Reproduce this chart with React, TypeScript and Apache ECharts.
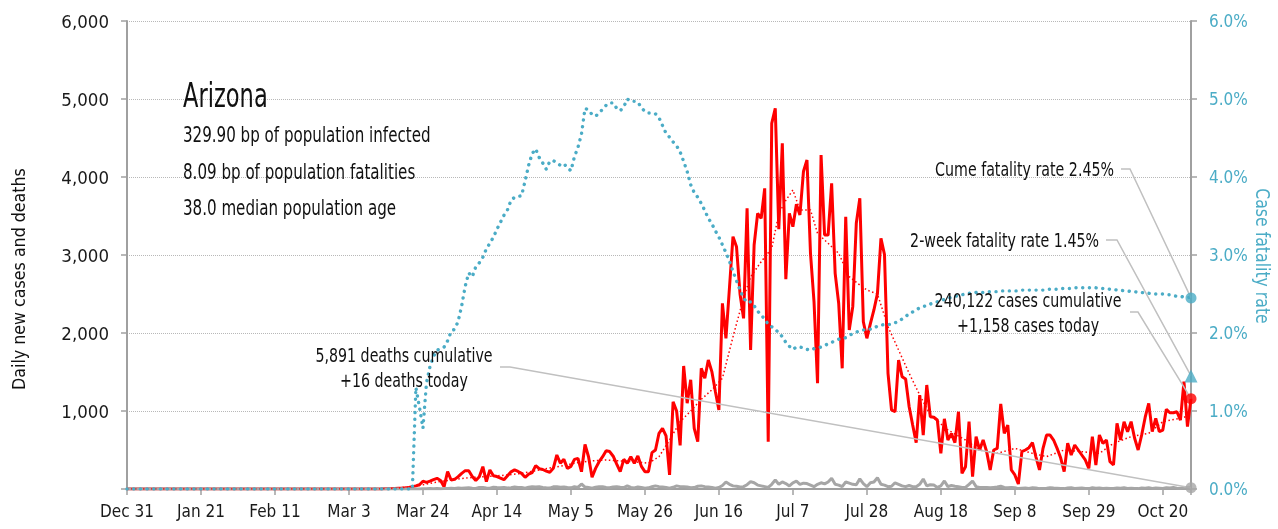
import React, { useEffect, useRef } from 'react';
import * as echarts from 'echarts';

const FONT = '"DejaVu Sans Condensed", "Liberation Sans Narrow", "Liberation Sans", sans-serif';

// x positions are day indexes counted from Dec 31, 2019
const xTickLabels = ['Dec 31', 'Jan 21', 'Feb 11', 'Mar 3', 'Mar 24', 'Apr 14', 'May 5', 'May 26', 'Jun 16', 'Jul 7', 'Jul 28', 'Aug 18', 'Sep 8', 'Sep 29', 'Oct 20'];
const lastDay = 302;

// daily new cases, starting at day 70
const casesStart = 70;
const cases = [
  0, 0, 1, 2, 3, 5, 8, 10, 12, 15,
  20, 30, 40, 55, 100, 85, 100, 120, 137, 110,
  30, 222, 115, 124, 158, 200, 235, 235, 160, 110,
  158, 286, 94, 244, 170, 160, 140, 120, 170, 220,
  245, 225, 200, 150, 190, 210, 299, 260, 250, 230,
  215, 265, 436, 330, 380, 265, 290, 380, 393, 222,
  570, 414, 150, 265, 350, 414, 491, 480, 420, 320,
  222, 380, 330, 414, 330, 423, 290, 222, 222, 466,
  500, 714, 778, 680, 180, 1119, 1000, 560, 1577, 1100,
  1400, 778, 607, 1547, 1419, 1654, 1505, 1250, 1013, 2381,
  1932, 2580, 3235, 3106, 2500, 2188, 3598, 1782, 3128, 3534,
  3470, 3855, 607, 4688, 4880, 3330, 4432, 2690, 3534, 3363,
  3650, 3513, 4070, 4218, 3021, 2400, 1355, 4282, 3256, 3256,
  3919, 2765, 2381, 1547, 3491, 2038, 2338, 3406, 3727, 2145,
  1932, 2120, 2295, 2505, 3214, 3007, 1483, 1013, 990, 1654,
  1440, 1410, 1055, 820, 594, 1205, 692, 1333, 927, 920,
  885, 457, 900, 628, 710, 594, 990, 201, 286, 863,
  158, 671, 500, 628, 479, 244, 500, 521, 1090, 714,
  820, 244, 180, 64, 479, 500, 530, 594, 410, 244,
  521, 692, 692, 628, 521, 400, 222, 586, 436, 564,
  500, 436, 372, 265, 671, 308, 692, 586, 628, 350,
  308, 842, 628, 863, 735, 863, 650, 500, 692, 920,
  1098, 735, 906, 735, 756, 1021, 978, 978, 990, 884,
  1376, 799, 1158,
];

// 7-day average of cases, read at sampled days
const casesAvg: [number, number][] = [
  [0, 0], [70, 0], [75, 5], [80, 25], [84, 55], [88, 90], [92, 115], [96, 140], [100, 155],
  [104, 165], [108, 180], [112, 200], [116, 235], [120, 270], [124, 300], [128, 340],
  [132, 360], [136, 372], [140, 360], [144, 350], [148, 330], [151, 414], [154, 628],
  [157, 863], [160, 1000], [163, 1150], [166, 1270], [169, 1420], [172, 1950], [175, 2450],
  [177, 2720], [180, 2914], [183, 3085], [185, 3530], [187, 3700], [189, 3833], [191, 3577],
  [194, 3577], [196, 3278], [199, 3150], [202, 3021], [205, 2722], [208, 2615], [210, 2551],
  [213, 2500], [216, 2081], [219, 1782], [222, 1483], [225, 1205], [228, 949], [233, 757],
  [238, 628], [242, 500], [247, 457], [252, 521], [257, 457], [261, 415], [266, 500],
  [271, 479], [276, 457], [280, 585], [285, 671], [290, 714], [294, 864], [299, 906], [302, 950],
];

// daily deaths, starting at day 80
const deathsStart = 80;
const deaths = [
  0, 0, 0, 1, 3, 2, 5, 4, 6, 3,
  5, 8, 10, 7, 12, 10, 14, 15, 9, 6,
  20, 18, 12, 10, 22, 18, 15, 20, 12, 16,
  25, 20, 18, 10, 22, 28, 25, 30, 20, 15,
  12, 28, 30, 22, 25, 18, 15, 30, 20, 64,
  25, 18, 10, 22, 30, 28, 20, 15, 25, 30,
  22, 18, 40, 20, 12, 25, 20, 10, 15, 28,
  40, 30, 25, 20, 10, 22, 40, 30, 28, 25,
  15, 18, 35, 40, 30, 25, 20, 10, 20, 45,
  90, 60, 40, 35, 25, 30, 55, 95, 80, 50,
  40, 30, 20, 60, 115, 60, 90, 70, 40, 80,
  100, 60, 75, 70, 50, 30, 60, 80, 65, 90,
  137, 60, 50, 30, 90, 75, 60, 55, 130, 70,
  30, 80, 90, 145, 60, 50, 30, 35, 80, 60,
  40, 30, 45, 30, 30, 60, 128, 40, 55, 50,
  20, 40, 103, 30, 45, 35, 30, 20, 20, 60,
  103, 30, 20, 18, 20, 15, 20, 25, 35, 20,
  15, 20, 15, 5, 10, 12, 8, 15, 12, 5,
  8, 10, 15, 12, 10, 8, 5, 12, 15, 8,
  10, 12, 6, 5, 15, 10, 12, 8, 10, 5,
  6, 12, 10, 15, 8, 10, 6, 5, 12, 10,
  15, 8, 12, 10, 8, 15, 12, 18, 10, 8,
  20, 12, 16,
];

// case fatality rate (%), starting at day 81
const cfrStart = 81;
const cfr = [
  0.0, 1.30, 1.05, 0.78, 1.36, 1.57, 1.70, 1.78, 1.80,
  1.82, 1.90, 2.02, 2.05, 2.15, 2.35, 2.60, 2.77, 2.72, 2.85,
  2.90, 2.97, 3.08, 3.15, 3.23, 3.33, 3.42, 3.51, 3.58, 3.70,
  3.74, 3.75, 3.76, 3.95, 4.15, 4.30, 4.36, 4.25, 4.18, 4.10,
  4.20, 4.21, 4.18, 4.15, 4.17, 4.12, 4.08, 4.26, 4.38, 4.55,
  4.88, 4.86, 4.80, 4.78, 4.82, 4.87, 4.92, 4.95, 4.95, 4.88,
  4.85, 4.90, 5.00, 4.97, 4.97, 4.96, 4.89, 4.84, 4.82, 4.82,
  4.81, 4.76, 4.66, 4.56, 4.51, 4.45, 4.40, 4.32, 4.20, 4.07,
  3.90, 3.80, 3.74, 3.66, 3.57, 3.47, 3.40, 3.31, 3.23, 3.13,
  3.03, 2.92, 2.79, 2.67, 2.55, 2.45, 2.39, 2.40, 2.35, 2.28,
  2.23, 2.18, 2.11, 2.08, 2.04, 2.01, 1.95, 1.88, 1.83, 1.79,
  1.82, 1.82, 1.81, 1.79, 1.78, 1.80, 1.81, 1.82, 1.84, 1.86,
  1.88, 1.90, 1.92, 1.93, 1.94, 1.97, 1.99, 2.01, 2.03, 2.04,
  2.04, 2.05, 2.06, 2.09, 2.10, 2.11, 2.11, 2.11, 2.13, 2.15,
  2.18, 2.21, 2.25, 2.27, 2.30, 2.32, 2.34, 2.35, 2.37, 2.39,
  2.40, 2.42, 2.43, 2.44, 2.46, 2.47, 2.48, 2.49, 2.50, 2.51,
  2.51, 2.52, 2.52, 2.52, 2.53, 2.53, 2.53, 2.53, 2.54, 2.54,
  2.54, 2.54, 2.54, 2.54, 2.55, 2.55, 2.55, 2.55, 2.55, 2.55,
  2.55, 2.56, 2.56, 2.56, 2.56, 2.57, 2.57, 2.57, 2.57, 2.58,
  2.58, 2.58, 2.58, 2.58, 2.58, 2.58, 2.57, 2.57, 2.57, 2.56,
  2.56, 2.55, 2.55, 2.54, 2.54, 2.53, 2.53, 2.52, 2.52, 2.51,
  2.51, 2.50, 2.50, 2.50, 2.50, 2.49, 2.49, 2.48, 2.47, 2.47,
  2.46, 2.46, 2.45,
];

const cumeRate = 2.45;
const twoWeekRate = 1.45;
const casesToday = 1158;
const deathsToday = 16;

const stateName = 'Arizona';
const statLines = ['329.90 bp of population infected', '8.09 bp of population fatalities', '38.0 median population age'];
const cumeLabel = 'Cume fatality rate 2.45%';
const twoWeekLabel = '2-week fatality rate 1.45%';
const casesLabel = ['240,122 cases cumulative', '+1,158 cases today'];
const deathsLabel = ['5,891 deaths cumulative', '+16 deaths today'];

const RED = '#ff0000';
const BLUE = '#4bacc6';
const GRAY = '#a6a6a6';
const AXIS = '#a0a0a0';
const LEADER = '#c0c0c0';

const toSeries = (start: number, arr: number[]) => [[0, 0], ...arr.map((v, i) => [start + i, v])];

export default function App() {
  const ref = useRef<HTMLDivElement>(null);
  useEffect(() => {
    const chart = echarts.init(ref.current!, null, { renderer: 'svg' });
    chart.setOption({
      animation: false,
      grid: { left: 127, right: 87, top: 21, bottom: 40 },
      xAxis: {
        type: 'value', min: 0, max: lastDay, interval: 21,
        axisLine: { show: true, lineStyle: { color: AXIS, width: 2 } },
        axisTick: { show: true, length: 6, lineStyle: { color: AXIS, width: 1.5 } },
        axisLabel: {
          fontFamily: FONT, fontSize: 17, color: '#1a1a1a', margin: 13,
          formatter: (v: number) => (v % 21 === 0 && xTickLabels[v / 21] ? xTickLabels[v / 21] : ''),
        },
        splitLine: { show: false },
      },
      yAxis: [
        {
          type: 'value', min: 0, max: 6000, interval: 1000, position: 'left',
          axisLine: { show: true, lineStyle: { color: AXIS, width: 2 } },
          axisTick: { show: true, length: 6, lineStyle: { color: AXIS, width: 1.5 } },
          axisLabel: {
            fontFamily: FONT, fontSize: 18.5, color: '#1a1a1a', margin: 18,
            formatter: (v: number) => (v === 0 ? '' : v.toLocaleString('en-US')),
          },
          splitLine: { show: true, lineStyle: { type: 'dotted', color: '#b8b8b8', width: 1 } },
        },
        {
          type: 'value', min: 0, max: 6, interval: 1, position: 'right',
          axisLine: { show: true, lineStyle: { color: AXIS, width: 2 } },
          axisTick: { show: true, length: 6, lineStyle: { color: AXIS, width: 1.5 } },
          axisLabel: { fontFamily: FONT, fontSize: 17, color: BLUE, margin: 18, formatter: (v: number) => v.toFixed(1) + '%' },
          splitLine: { show: false },
        },
      ],
      series: [
        {
          name: 'cases', type: 'line', data: toSeries(casesStart, cases), showSymbol: false, symbol: 'none',
          lineStyle: { color: RED, width: 3 }, z: 2,
        },
        {
          name: 'deaths', type: 'line', data: toSeries(deathsStart, deaths), showSymbol: false, symbol: 'none',
          lineStyle: { color: GRAY, width: 3 }, z: 3,
        },
        {
          name: 'cases avg', type: 'line', data: casesAvg, showSymbol: false, symbol: 'none',
          lineStyle: { color: RED, width: 1.5, type: [1.5, 2.5] }, z: 4,
        },
        {
          name: 'cfr', type: 'line', yAxisIndex: 1, data: toSeries(cfrStart, cfr), showSymbol: false, symbol: 'none',
          lineStyle: { color: BLUE, width: 3.4, type: [0.1, 6.6], cap: 'round' }, z: 5,
        },
        {
          name: 'cume marker', type: 'scatter', yAxisIndex: 1, data: [[lastDay, cumeRate]],
          symbol: 'circle', symbolSize: 11, itemStyle: { color: BLUE }, z: 10,
        },
        {
          name: '2wk marker', type: 'scatter', yAxisIndex: 1, data: [[lastDay, twoWeekRate]],
          symbol: 'triangle', symbolSize: 13, itemStyle: { color: BLUE }, z: 10,
        },
        {
          name: 'case marker', type: 'scatter', data: [[lastDay, casesToday]],
          symbol: 'circle', symbolSize: 11, itemStyle: { color: RED }, z: 10,
        },
        {
          name: 'death marker', type: 'scatter', data: [[lastDay, deathsToday]],
          symbol: 'circle', symbolSize: 11, itemStyle: { color: GRAY }, z: 10,
        },
      ],
    });

    const pCume = chart.convertToPixel({ seriesIndex: 4 }, [lastDay, cumeRate]) as number[];
    const pTwo = chart.convertToPixel({ seriesIndex: 5 }, [lastDay, twoWeekRate]) as number[];
    const pCase = chart.convertToPixel({ seriesIndex: 6 }, [lastDay, casesToday]) as number[];
    const pDeath = chart.convertToPixel({ seriesIndex: 7 }, [lastDay, deathsToday]) as number[];

    const txt = (text: string, x: number, y: number, size: number, align: string, sx: number, fill = '#111', extra: any = {}) => ({
      type: 'text', x, y, z: 20, scaleX: sx, ...extra,
      style: { text, fontFamily: FONT, fontSize: size, fill, align, verticalAlign: 'middle' },
    });
    const leader = (pts: number[][]) => ({
      type: 'polyline', z: 8, shape: { points: pts },
      style: { stroke: LEADER, lineWidth: 1.5, fill: null },
    });

    chart.setOption({
      graphic: [
        txt(stateName, 183, 96, 33, 'left', 0.76),
        txt(statLines[0], 183, 134, 21, 'left', 0.8),
        txt(statLines[1], 183, 171, 21, 'left', 0.8),
        txt(statLines[2], 183, 207, 21, 'left', 0.8),
        txt(cumeLabel, 1114, 169, 20, 'right', 0.79),
        txt(twoWeekLabel, 1099, 240, 20, 'right', 0.79),
        txt(casesLabel[0], 1028, 300, 20, 'center', 0.79),
        txt(casesLabel[1], 1028, 325, 20, 'center', 0.79),
        txt(deathsLabel[0], 404, 355, 20, 'center', 0.79),
        txt(deathsLabel[1], 404, 380, 20, 'center', 0.79),
        txt('Daily new cases and deaths', 18, 279, 18, 'center', 0.98, '#111', { rotation: Math.PI / 2 }),
        txt('Case fatality rate', 1263, 256, 19, 'center', 0.92, BLUE, { rotation: -Math.PI / 2 }),
        leader([[1121, 169], [1130, 169], pCume]),
        leader([[1106, 240], [1117, 240], pTwo]),
        leader([[1130, 312], [1138, 312], pCase]),
        leader([[500, 367], [510, 367], pDeath]),
      ],
    });
    return () => chart.dispose();
  }, []);
  return <div ref={ref} style={{ position: 'fixed', left: 0, top: 0, width: 1278, height: 529 }} />;
}
